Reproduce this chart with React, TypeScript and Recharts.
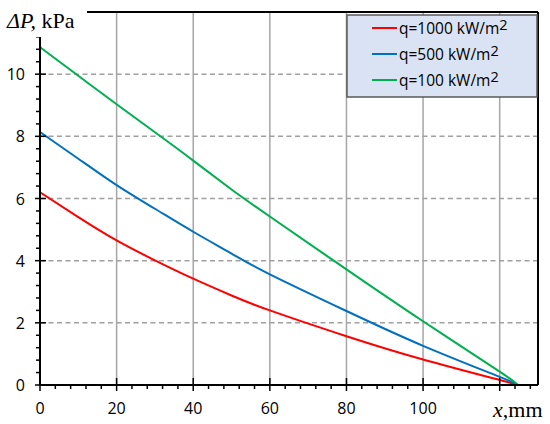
import { LineChart, Line, XAxis, YAxis, ReferenceLine } from "recharts";

// channel coordinate, mm
const xMm = [0, 10, 20, 30, 40, 50, 60, 80, 100, 120, 124.7];
// pressure drop, kPa
const dp1000 = [6.2, 5.4, 4.65, 4.01, 3.42, 2.88, 2.4, 1.57, 0.82, 0.16, 0];
const dp500 = [8.14, 7.28, 6.43, 5.67, 4.93, 4.23, 3.56, 2.38, 1.26, 0.26, 0];
const dp100 = [10.87, 9.95, 9.03, 8.13, 7.22, 6.29, 5.42, 3.72, 2.05, 0.43, 0];

const seriesKeys = ["q1000", "q500", "q100"];
const seriesLabels = ["q=1000 kW/m", "q=500 kW/m", "q=100 kW/m"];
const seriesColors = ["#ff0000", "#0070c0", "#00b050"];

const xMajor = [0, 20, 40, 60, 80, 100, 120];
const xLabelled = [0, 20, 40, 60, 80, 100];
const xTicks = [
  0, 4, 8, 12, 16, 20, 24, 28, 32, 36, 40, 44, 48, 52, 56, 60, 64, 68, 72, 76,
  80, 84, 88, 92, 96, 100, 104, 108, 112, 116, 120, 124, 128,
];
const yMajor = [0, 2, 4, 6, 8, 10, 12];
const yLabelled = [0, 2, 4, 6, 8, 10];
const yTicks = [
  0, 0.4, 0.8, 1.2, 1.6, 2, 2.4, 2.8, 3.2, 3.6, 4, 4.4, 4.8, 5.2, 5.6, 6, 6.4,
  6.8, 7.2, 7.6, 8, 8.4, 8.8, 9.2, 9.6, 10, 10.4, 10.8, 11.2, 11.6, 12,
];
const xGrid = [20, 40, 60, 80, 100, 120];
const yGrid = [2, 4, 6, 8, 10];

const data = xMm.map((x, i) => ({
  x,
  q1000: dp1000[i],
  q500: dp500[i],
  q100: dp100[i],
}));

const tickFont = "'Open Sans', 'Noto Sans', sans-serif";

const XTick = (props: any) => {
  const { x, y, payload } = props;
  const v = payload.value;
  const major = xMajor.includes(v);
  return (
    <g>
      <line x1={x} x2={x} y1={major ? y - 7 : y} y2={y + (major ? 6 : 4)} stroke="#000" strokeWidth={1.5} />
      {xLabelled.includes(v) && (
        <text x={x} y={y + 29} textAnchor="middle" fontFamily={tickFont} fontSize={16} fill="#000">
          {v}
        </text>
      )}
    </g>
  );
};

const YTick = (props: any) => {
  const { x, y, payload } = props;
  const v = payload.value;
  const major = yMajor.some((m) => Math.abs(m - v) < 1e-6);
  return (
    <g>
      <line x1={major ? x - 5 : x - 4} x2={major ? x + 6 : x} y1={y} y2={y} stroke="#000" strokeWidth={1.5} />
      {yLabelled.some((m) => Math.abs(m - v) < 1e-6) && (
        <text x={x - 15} y={y + 6} textAnchor="end" fontFamily={tickFont} fontSize={16} fill="#000">
          {v}
        </text>
      )}
    </g>
  );
};

export default function App() {
  return (
    <div style={{ position: "relative", width: 550, height: 424, background: "#fff" }}>
      <style>{`body{margin:0}`}</style>
      <LineChart width={550} height={424} data={data} margin={{ top: 12, right: 12, bottom: 0, left: 0 }}>
        {xGrid.map((v) => (
          <ReferenceLine key={`vx${v}`} x={v} stroke="#a6a6a6" strokeWidth={1.5} />
        ))}
        {yGrid.map((v) => (
          <ReferenceLine key={`hy${v}`} y={v} stroke="#a0a0a0" strokeWidth={1.5} strokeDasharray="5 3.5" />
        ))}
        <ReferenceLine x={130} stroke="#000" strokeWidth={2} />
        <ReferenceLine y={12} stroke="#000" strokeWidth={2} />
        <XAxis
          dataKey="x"
          type="number"
          domain={[0, 130]}
          ticks={xTicks}
          interval={0}
          height={39}
          tickSize={0}
          tickMargin={0}
          tickLine={false}
          axisLine={{ stroke: "#000", strokeWidth: 2 }}
          tick={<XTick />}
        />
        <YAxis
          type="number"
          domain={[0, 12]}
          ticks={yTicks}
          interval={0}
          width={40}
          tickSize={0}
          tickMargin={0}
          tickLine={false}
          axisLine={{ stroke: "#000", strokeWidth: 2 }}
          tick={<YTick />}
        />
        {seriesKeys.map((k, i) => (
          <Line
            key={k}
            dataKey={k}
            type="natural"
            stroke={seriesColors[i]}
            strokeWidth={2}
            dot={false}
            isAnimationActive={false}
          />
        ))}
      </LineChart>
      <svg width={550} height={424} style={{ position: "absolute", left: 0, top: 0, pointerEvents: "none" }}>
        <rect x={0} y={0} width={87} height={37} fill="#fff" />
        <text x={7} y={28} fontFamily="'Liberation Serif', serif" fontSize={22} fill="#000">
          <tspan fontStyle="italic">ΔP,</tspan> kPa
        </text>
        <text x={493} y={417} fontFamily="'Liberation Serif', serif" fontSize={22} fill="#000">
          <tspan fontStyle="italic">x</tspan>,mm
        </text>
        <rect x={347} y={15} width={190} height={82} fill="#dae3f3" stroke="#595959" strokeWidth={1.5} />
        {seriesLabels.map((label, i) => (
          <g key={label}>
            <line x1={372} x2={397} y1={28 + i * 26} y2={28 + i * 26} stroke={seriesColors[i]} strokeWidth={2} />
            <text x={399} y={33.5 + i * 26} fontFamily={tickFont} fontSize={15.5} fill="#000">
              {label}
              <tspan dy={-4} fontSize={14.5}>2</tspan>
            </text>
          </g>
        ))}
      </svg>
    </div>
  );
}
